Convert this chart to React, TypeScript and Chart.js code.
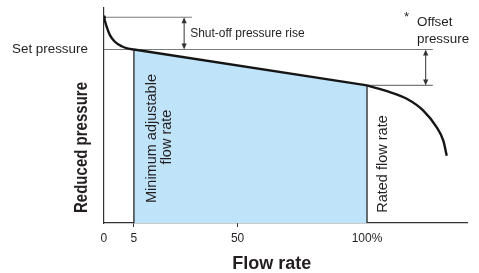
import React, { useEffect, useRef } from 'react';
import { Chart, registerables, LinearScale } from 'chart.js';

// ---------- data ----------
const flowTickValues = [0, 5, 50, 100];
const flowTickLabels = ['0', '5', '50', '100%'];
// schematic (broken) flow axis: flow value -> drawn axis position
const axisBreakFlow = [0, 5, 50, 100];
const axisBreakPos = [0, 11.4, 50.8, 100];

const riseFlow = [0, 0.45, 1.0, 1.83, 2.95, 4.05, 5];
const risePressure = [95.7, 91.3, 87.4, 84.3, 82.2, 81.1, 80.7];
const droopFlow = [5, 100];
const droopPressure = [80.7, 64];
const dropFlow = [100, 108.7, 115.1, 121.4, 126.5, 129, 130.3];
const dropPressure = [64, 60.9, 57.8, 52.3, 44.5, 38.3, 31.3];

const shutOffPressure = 95.7;
const setPressure = 80.7;
const ratedPressure = 64;
const minFlow = 5;
const ratedFlow = 100;
const flowMax = 138;
const pressureMax = 100;

const shutOffGuideFlow = [0, 30.2];
const setGuideFlow = [0, 125];
const offsetGuideFlow = [100, 125];
const arrowFlow = [26.8, 122.3];

// ---------- schematic scale ----------
function interp(v: number, from: number[], to: number[]) {
  const n = from.length;
  if (v >= from[n - 1]) return to[n - 1] + (v - from[n - 1]);
  if (v <= from[0]) return to[0] + (v - from[0]);
  for (let i = 1; i < n; i++) {
    if (v <= from[i]) {
      const t = (v - from[i - 1]) / (from[i] - from[i - 1]);
      return to[i - 1] + t * (to[i] - to[i - 1]);
    }
  }
  return v;
}
const warp = (v: number) => interp(v, axisBreakFlow, axisBreakPos);
const unwarp = (v: number) => interp(v, axisBreakPos, axisBreakFlow);

class SchematicScale extends LinearScale {
  static id = 'schematic';
  static defaults = LinearScale.defaults;
  getPixelForValue(value: any) {
    if (value === null || value === undefined) return NaN;
    return super.getPixelForValue(warp(value));
  }
  getValueForPixel(pixel: number) {
    return unwarp(super.getValueForPixel(pixel));
  }
}

Chart.register(...registerables, SchematicScale);

const FONT = '"Liberation Sans", Arial, Helvetica, sans-serif';
const TEXT = '#231f20';
const CURVE = '#151515';
const GUIDE = '#7a7a7a';
const AXIS = '#333333';
const BLUE = '#bfe3f8';

const pts = (xs: number[], ys: number[]) => xs.map((x, i) => ({ x, y: ys[i] }));

const annotationPlugin = {
  id: 'annotations',
  afterDraw(chart: any) {
    const { ctx } = chart;
    const xs = chart.scales.x;
    const ys = chart.scales.y;
    ctx.save();

    // double-headed arrows
    const arrow = (px: number, y1: number, y2: number) => {
      ctx.strokeStyle = '#333';
      ctx.fillStyle = '#333';
      ctx.lineWidth = 1;
      ctx.beginPath();
      ctx.moveTo(px, y1 + 3);
      ctx.lineTo(px, y2 - 3);
      ctx.stroke();
      const h = 6, w = 2.6;
      ctx.beginPath();
      ctx.moveTo(px, y1);
      ctx.lineTo(px - w, y1 + h);
      ctx.lineTo(px + w, y1 + h);
      ctx.closePath();
      ctx.fill();
      ctx.beginPath();
      ctx.moveTo(px, y2);
      ctx.lineTo(px - w, y2 - h);
      ctx.lineTo(px + w, y2 - h);
      ctx.closePath();
      ctx.fill();
    };
    const a1 = xs.getPixelForValue(arrowFlow[0]);
    arrow(a1, ys.getPixelForValue(shutOffPressure), ys.getPixelForValue(setPressure));
    const a2 = xs.getPixelForValue(arrowFlow[1]);
    arrow(a2, ys.getPixelForValue(setPressure), ys.getPixelForValue(ratedPressure));

    ctx.fillStyle = TEXT;
    ctx.textBaseline = 'alphabetic';

    // horizontal annotations
    ctx.textAlign = 'left';
    ctx.font = `12px ${FONT}`;
    ctx.fillText('Shut-off pressure rise', a1 + 6, 37.3);
    ctx.font = `13.4px ${FONT}`;
    ctx.fillText('*', 404, 20.5);
    ctx.fillText('Offset', 417, 26);
    ctx.fillText('pressure', 417, 43);

    // x axis title
    ctx.textAlign = 'center';
    ctx.font = `bold 18px ${FONT}`;
    ctx.fillText('Flow rate', 271.7, 269.3);

    // rotated labels
    const vtext = (text: string, bx: number, cy: number, font: string, maxW?: number) => {
      ctx.save();
      ctx.translate(bx, cy);
      ctx.rotate(-Math.PI / 2);
      ctx.font = font;
      ctx.textAlign = 'center';
      ctx.textBaseline = 'alphabetic';
      if (maxW) ctx.fillText(text, 0, 0, maxW);
      else ctx.fillText(text, 0, 0);
      ctx.restore();
    };
    const pMin = xs.getPixelForValue(minFlow);
    const pRated = xs.getPixelForValue(ratedFlow);
    vtext('Minimum adjustable', pMin + 22.5, 138.5, `14.5px ${FONT}`);
    vtext('flow rate', pMin + 37.5, 137, `14.5px ${FONT}`);
    vtext('Rated flow rate', pRated + 19.5, 164, `14.5px ${FONT}`);
    vtext('Reduced pressure', 86.7, 147.5, `bold 17.5px ${FONT}`, 131);

    ctx.restore();
  },
};

export default function App() {
  const ref = useRef<HTMLCanvasElement>(null);
  useEffect(() => {
    const line = (data: any[], color: string, width: number, extra: any = {}) => ({
      data,
      borderColor: color,
      borderWidth: width,
      pointRadius: 0,
      fill: false,
      ...extra,
    });
    const chart = new Chart(ref.current as HTMLCanvasElement, {
      type: 'line',
      data: {
        datasets: [
          line(pts(riseFlow, risePressure), CURVE, 2.4, {
            cubicInterpolationMode: 'monotone',
            pointRadius: (c: any) => (c.dataIndex === 0 ? 2 : 0),
            pointBackgroundColor: CURVE,
            pointBorderWidth: 0,
          }),
          line(pts(droopFlow, droopPressure), CURVE, 2.4),
          line(pts(dropFlow, dropPressure), CURVE, 2.4, { cubicInterpolationMode: 'monotone' }),
          line(pts([minFlow, minFlow], [0, setPressure]), AXIS, 1.4),
          line(pts([ratedFlow, ratedFlow], [0, ratedPressure]), AXIS, 1.4),
          line(pts(shutOffGuideFlow, [shutOffPressure, shutOffPressure]), GUIDE, 1.2),
          line(pts(setGuideFlow, [setPressure, setPressure]), GUIDE, 1.2),
          line(pts(offsetGuideFlow, [ratedPressure, ratedPressure]), GUIDE, 1.2),
          line(pts(droopFlow, droopPressure), 'transparent', 0, { fill: 'origin', backgroundColor: BLUE }),
        ],
      } as any,
      plugins: [annotationPlugin as any],
      options: {
        responsive: false,
        animation: false,
        devicePixelRatio: 1,
        events: [],
        layout: { padding: { left: 12, right: 12, top: 8, bottom: 23.6 } },
        plugins: { legend: { display: false }, tooltip: { enabled: false } },
        scales: {
          x: {
            type: 'schematic' as any,
            min: 0,
            max: flowMax,
            afterBuildTicks: (axis: any) => {
              axis.ticks = flowTickValues.map((v) => ({ value: v }));
            },
            ticks: {
              autoSkip: false,
              maxRotation: 0,
              padding: 4,
              color: TEXT,
              font: { family: FONT, size: 12 },
              callback: (_v: any, i: number) => flowTickLabels[i],
            },
            grid: {
              display: true,
              drawOnChartArea: false,
              drawTicks: true,
              tickLength: 4,
              color: (c: any) =>
                c.tick && (c.tick.value === minFlow || c.tick.value === 50) ? AXIS : 'transparent',
            },
            border: { display: true, color: AXIS, width: 1.2 },
          },
          y: {
            type: 'linear',
            min: 0,
            max: pressureMax,
            afterBuildTicks: (axis: any) => {
              axis.ticks = [{ value: setPressure }];
            },
            ticks: {
              padding: 0,
              color: TEXT,
              font: { family: FONT, size: 13.4, lineHeight: 1 },
              callback: () => 'Set pressure',
            },
            grid: { display: false, drawTicks: true, tickLength: 16 },
            border: { display: true, color: AXIS, width: 1.2 },
          },
        },
      } as any,
    });
    return () => chart.destroy();
  }, []);
  return (
    <div style={{ position: 'fixed', left: 0, top: 0, width: 479, height: 273, background: '#fff' }}>
      <canvas ref={ref} width={479} height={273} style={{ display: 'block' }} />
    </div>
  );
}
